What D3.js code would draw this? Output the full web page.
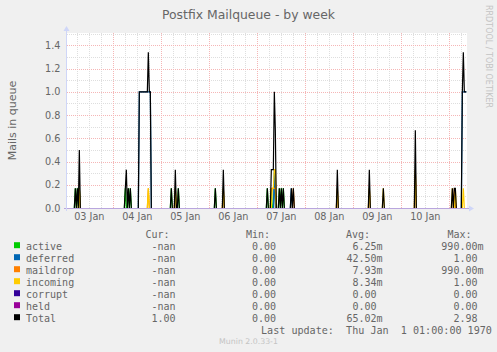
<!DOCTYPE html>
<html>
<head>
<meta charset="utf-8">
<script src="https://cdn.jsdelivr.net/npm/d3@7"></script>
<style>
  html, body { margin: 0; padding: 0; background: #f0f0f0; }
  svg { display: block; font-family: "DejaVu Sans", sans-serif; }
  .mono { font-family: "DejaVu Sans Mono", monospace; white-space: pre; }
</style>
</head>
<body>
<svg id="chart" width="497" height="352"></svg>
<script>
const title = 'Postfix Mailqueue - by week';
const yLabel = 'Mails in queue';
const yTicks = [0, 0.2, 0.4, 0.6, 0.8, 1.0, 1.2, 1.4];
const dayLabels = ['2024-01-03', '2024-01-04', '2024-01-05', '2024-01-06',
                   '2024-01-07', '2024-01-08', '2024-01-09', '2024-01-10'];
const timeRange = ['2024-01-03T00:50', '2024-01-11T08:50'];

const seriesNames = ['active', 'deferred', 'maildrop', 'incoming', 'corrupt', 'held', 'Total'];
const seriesColors = ['#00cc00', '#0066b3', '#ff8000', '#ffcc00', '#330099', '#990099', '#000000'];

// 30 minute samples that are not zero: [time, mails]
const active = [
  ['2024-01-03T05:00', 0.17], ['2024-01-03T06:00', 0.17], ['2024-01-03T07:00', 0.17],
  ['2024-01-04T06:00', 0.17], ['2024-01-04T07:30', 0.17], ['2024-01-04T08:30', 0.17],
  ['2024-01-05T05:00', 0.17], ['2024-01-05T08:30', 0.17],
  ['2024-01-06T03:00', 0.17],
  ['2024-01-07T05:00', 0.17], ['2024-01-07T07:00', 0.17], ['2024-01-07T08:30', 0.17],
  ['2024-01-07T09:00', 0.17], ['2024-01-07T11:00', 0.17], ['2024-01-07T12:00', 0.17],
  ['2024-01-07T13:00', 0.17]
];
const deferred = [
  ['2024-01-04T13:00', 1], ['2024-01-04T13:30', 1], ['2024-01-04T14:00', 1], ['2024-01-04T14:30', 1],
  ['2024-01-04T15:00', 1], ['2024-01-04T15:30', 1], ['2024-01-04T16:00', 1], ['2024-01-04T16:30', 1],
  ['2024-01-04T17:00', 1], ['2024-01-04T17:30', 1], ['2024-01-04T18:00', 1], ['2024-01-04T18:30', 1],
  ['2024-01-07T08:30', 0.33], ['2024-01-07T17:00', 0.17],
  ['2024-01-11T06:30', 1], ['2024-01-11T07:00', 1], ['2024-01-11T07:30', 1],
  ['2024-01-11T08:00', 1], ['2024-01-11T08:30', 1]
];
const maildrop = [
  ['2024-01-03T07:00', 0.17], ['2024-01-04T17:30', 0.17],
  ['2024-01-05T07:00', 0.17], ['2024-01-06T07:00', 0.17],
  ['2024-01-07T07:00', 0.17], ['2024-01-07T07:30', 0.17], ['2024-01-07T08:00', 0.17],
  ['2024-01-07T08:30', 0.17], ['2024-01-07T09:00', 0.17], ['2024-01-07T18:00', 0.17],
  ['2024-01-08T16:00', 0.17], ['2024-01-09T08:00', 0.17], ['2024-01-10T07:00', 0.33],
  ['2024-01-11T02:30', 0.17]
];
const incoming = [
  ['2024-01-03T07:00', 0.17], ['2024-01-04T17:30', 0.17],
  ['2024-01-05T07:00', 0.17], ['2024-01-06T07:00', 0.17],
  ['2024-01-07T07:30', 0.17], ['2024-01-07T08:00', 0.17], ['2024-01-07T08:30', 0.33],
  ['2024-01-07T09:00', 0.33],
  ['2024-01-08T16:00', 0.17], ['2024-01-09T08:00', 0.17], ['2024-01-09T15:00', 0.17],
  ['2024-01-10T07:00', 0.33],
  ['2024-01-11T01:30', 0.17], ['2024-01-11T03:00', 0.17], ['2024-01-11T07:00', 0.17]
];
const corrupt = [];
const held = [];
const total = [
  ['2024-01-03T05:00', 0.17], ['2024-01-03T06:00', 0.17], ['2024-01-03T07:00', 0.5],
  ['2024-01-04T06:00', 0.17], ['2024-01-04T06:30', 0.33], ['2024-01-04T07:30', 0.17],
  ['2024-01-04T08:30', 0.17],
  ['2024-01-04T13:00', 1], ['2024-01-04T13:30', 1], ['2024-01-04T14:00', 1], ['2024-01-04T14:30', 1],
  ['2024-01-04T15:00', 1], ['2024-01-04T15:30', 1], ['2024-01-04T16:00', 1], ['2024-01-04T16:30', 1],
  ['2024-01-04T17:00', 1], ['2024-01-04T17:30', 1.34], ['2024-01-04T18:00', 1], ['2024-01-04T18:30', 1],
  ['2024-01-05T05:00', 0.17], ['2024-01-05T07:00', 0.33], ['2024-01-05T08:30', 0.17],
  ['2024-01-06T03:00', 0.17], ['2024-01-06T07:00', 0.33],
  ['2024-01-07T05:00', 0.17], ['2024-01-07T07:00', 0.33], ['2024-01-07T07:30', 0.33],
  ['2024-01-07T08:00', 0.33], ['2024-01-07T08:30', 1], ['2024-01-07T09:00', 0.67],
  ['2024-01-07T11:00', 0.17], ['2024-01-07T12:00', 0.17], ['2024-01-07T13:00', 0.17],
  ['2024-01-07T17:00', 0.17], ['2024-01-07T18:00', 0.17],
  ['2024-01-08T16:00', 0.33],
  ['2024-01-09T08:00', 0.33], ['2024-01-09T15:00', 0.17],
  ['2024-01-10T07:00', 0.67],
  ['2024-01-11T01:30', 0.17], ['2024-01-11T02:30', 0.17], ['2024-01-11T03:00', 0.17],
  ['2024-01-11T06:30', 1], ['2024-01-11T07:00', 1.34], ['2024-01-11T07:30', 1],
  ['2024-01-11T08:00', 1], ['2024-01-11T08:30', 1]
];

// legend table
const legendCur = ['-nan', '-nan', '-nan', '-nan', '-nan', '-nan', '1.00'];
const legendMin = ['0.00', '0.00', '0.00', '0.00', '0.00', '0.00', '0.00'];
const legendAvg = ['6.25m', '42.50m', '7.93m', '8.34m', '0.00', '0.00', '65.02m'];
const legendMax = ['990.00m', '1.00', '990.00m', '1.00', '0.00', '0.00', '2.98'];
const lastUpdate = 'Last update:  Thu Jan  1 01:00:00 1970';
const version = 'Munin 2.0.33-1';
const watermark = 'RRDTOOL / TOBI OETIKER';

const seriesData = [active, deferred, maildrop, incoming, corrupt, held, total];

// --- drawing ---
const svg = d3.select('#chart');
const plot = { left: 67, right: 467, top: 33, bottom: 208 };
const fontColor = '#666666';
const axisColor = '#cfd6f8';

const parse = d3.utcParse('%Y-%m-%dT%H:%M');
const parseDay = d3.utcParse('%Y-%m-%d');
const x = d3.scaleUtc()
  .domain(timeRange.map(parse))
  .range([plot.left, plot.right]);
const y = d3.scaleLinear()
  .domain([0, 1.506])
  .range([plot.bottom, plot.top]);

const crisp = v => Math.round(v) + 0.5;

// canvas
svg.append('rect')
  .attr('x', plot.left).attr('y', plot.top)
  .attr('width', plot.right - plot.left).attr('height', plot.bottom - plot.top)
  .attr('fill', '#ffffff');

// grid: minor every 6 hours / 0.1, major every day / 0.2
const grid = svg.append('g').attr('shape-rendering', 'crispEdges').attr('stroke-dasharray', '1,1');
const minorY = d3.range(1, 16).map(i => i / 10);
grid.selectAll('.gy').data(minorY).join('line')
  .attr('x1', plot.left).attr('x2', plot.right)
  .attr('y1', d => crisp(y(d))).attr('y2', d => crisp(y(d)))
  .attr('stroke', '#dedede');
const minorX = x.ticks(d3.utcHour.every(6));
grid.selectAll('.gx').data(minorX).join('line')
  .attr('y1', plot.top).attr('y2', plot.bottom)
  .attr('x1', d => crisp(x(d))).attr('x2', d => crisp(x(d)))
  .attr('stroke', '#dedede');
grid.selectAll('.my').data(yTicks.filter(d => d > 0)).join('line')
  .attr('x1', plot.left).attr('x2', plot.right)
  .attr('y1', d => crisp(y(d))).attr('y2', d => crisp(y(d)))
  .attr('stroke', '#f5b6b6');
grid.selectAll('.mx').data(x.ticks(d3.utcDay.every(1))).join('line')
  .attr('y1', plot.top).attr('y2', plot.bottom)
  .attr('x1', d => crisp(x(d))).attr('x2', d => crisp(x(d)))
  .attr('stroke', '#f5b6b6');

// y tick labels
svg.append('g').selectAll('text').data(yTicks).join('text')
  .attr('x', 60.5).attr('y', d => y(d) + 3.5)
  .attr('text-anchor', 'end')
  .attr('font-size', '9.7px')
  .attr('fill', fontColor)
  .text(d => d.toFixed(1));

// x tick labels at noon
const dayFmt = d3.utcFormat('%d %b');
svg.append('g').selectAll('text').data(dayLabels).join('text')
  .attr('x', d => x(d3.utcHour.offset(parseDay(d), 12)))
  .attr('y', 220)
  .attr('text-anchor', 'middle')
  .attr('font-size', '9.7px')
  .attr('fill', fontColor)
  .text(d => dayFmt(parseDay(d)));

// lines
svg.append('clipPath').attr('id', 'clip')
  .append('rect')
  .attr('x', plot.left).attr('y', plot.top - 5)
  .attr('width', plot.right - plot.left).attr('height', plot.bottom - plot.top + 6);

const t0 = +x.domain()[0], t1 = +x.domain()[1];
const step = 30 * 60 * 1000;

// turn the sparse samples into runs that start and end at zero
function runs(samples) {
  const pts = samples.map(([t, v]) => ({ t: parse(t), v })).sort((a, b) => a.t - b.t);
  const seen = new Set(pts.map(p => +p.t));
  const out = [];
  pts.forEach(p => {
    const prev = +p.t - step, next = +p.t + step;
    if (!seen.has(prev)) {
      if (out.length) out.push(null);
      if (prev >= t0) out.push({ t: new Date(prev), v: 0 });
    }
    out.push(p);
    if (!seen.has(next) && next <= t1) out.push({ t: new Date(next), v: 0 });
  });
  return out;
}

const line = d3.line()
  .defined(d => d !== null)
  .x(d => x(d.t))
  .y(d => y(d.v));

const lines = svg.append('g').attr('clip-path', 'url(#clip)');
seriesData.forEach((s, i) => {
  if (!s.length) return;
  lines.append('path')
    .datum(runs(s))
    .attr('fill', 'none')
    .attr('stroke', seriesColors[i])
    .attr('stroke-width', 1.2)
    .attr('d', line);
});

// axes with arrows
const axes = svg.append('g');
axes.append('line')
  .attr('x1', plot.left - 3).attr('x2', plot.right + 3)
  .attr('y1', plot.bottom + 0.5).attr('y2', plot.bottom + 0.5)
  .attr('stroke', '#b9a6de').attr('shape-rendering', 'crispEdges');
axes.append('line')
  .attr('x1', plot.left - 0.5).attr('x2', plot.left - 0.5)
  .attr('y1', plot.bottom + 3).attr('y2', plot.top - 3)
  .attr('stroke', axisColor).attr('shape-rendering', 'crispEdges');
axes.append('path')
  .attr('d', `M${plot.left - 3.5},${plot.top - 2} L${plot.left - 0.5},${plot.top - 7} L${plot.left + 2.5},${plot.top - 2} Z`)
  .attr('fill', axisColor);
axes.append('path')
  .attr('d', `M${plot.right + 2},${plot.bottom - 2.5} L${plot.right + 7},${plot.bottom + 0.5} L${plot.right + 2},${plot.bottom + 3.5} Z`)
  .attr('fill', axisColor);

// title and axis label
svg.append('text')
  .attr('x', 248.5).attr('y', 18.5)
  .attr('text-anchor', 'middle')
  .attr('font-size', '12.4px')
  .attr('fill', fontColor)
  .text(title);

svg.append('text')
  .attr('transform', `translate(15.5,${(plot.top + plot.bottom) / 2}) rotate(-90)`)
  .attr('text-anchor', 'middle')
  .attr('font-size', '11px')
  .attr('fill', fontColor)
  .text(yLabel);

svg.append('text')
  .attr('transform', 'translate(485.5,5) rotate(90)')
  .attr('font-size', '8px')
  .attr('fill', '#c4c4c4')
  .text(watermark);

// legend
const legend = svg.append('g').attr('class', 'mono').attr('font-size', '10px').attr('fill', fontColor);
const charW = 6.02;
[['Cur:', 145.5], ['Min:', 246], ['Avg:', 346], ['Max:', 447.5]].forEach(([h, hx]) => {
  legend.append('text').attr('x', hx).attr('y', 237.5).text(h);
});

const rowY = i => 249.5 + i * 12;
seriesNames.forEach((name, i) => {
  legend.append('rect')
    .attr('x', 14).attr('y', rowY(i) - 7.3)
    .attr('width', 6).attr('height', 6)
    .attr('fill', seriesColors[i]);
  legend.append('text').attr('x', 26).attr('y', rowY(i)).text(name);
});

// value columns: right edge of the unit character
const columns = [[legendCur, 181.5], [legendMin, 282], [legendAvg, 382.5], [legendMax, 483.5]];
columns.forEach(([vals, edge]) => {
  legend.selectAll(null).data(vals).join('text')
    .attr('x', d => d.endsWith('m') ? edge : edge - charW)
    .attr('y', (d, i) => rowY(i))
    .attr('text-anchor', 'end')
    .text(d => d);
});

legend.append('text')
  .attr('x', 261).attr('y', 333.5)
  .attr('font-size', '10.1px')
  .attr('xml:space', 'preserve')
  .text(lastUpdate);

svg.append('text')
  .attr('x', 248.5).attr('y', 344)
  .attr('text-anchor', 'middle')
  .attr('font-size', '7.8px')
  .attr('fill', '#c4c4c4')
  .text(version);
</script>
</body>
</html>
